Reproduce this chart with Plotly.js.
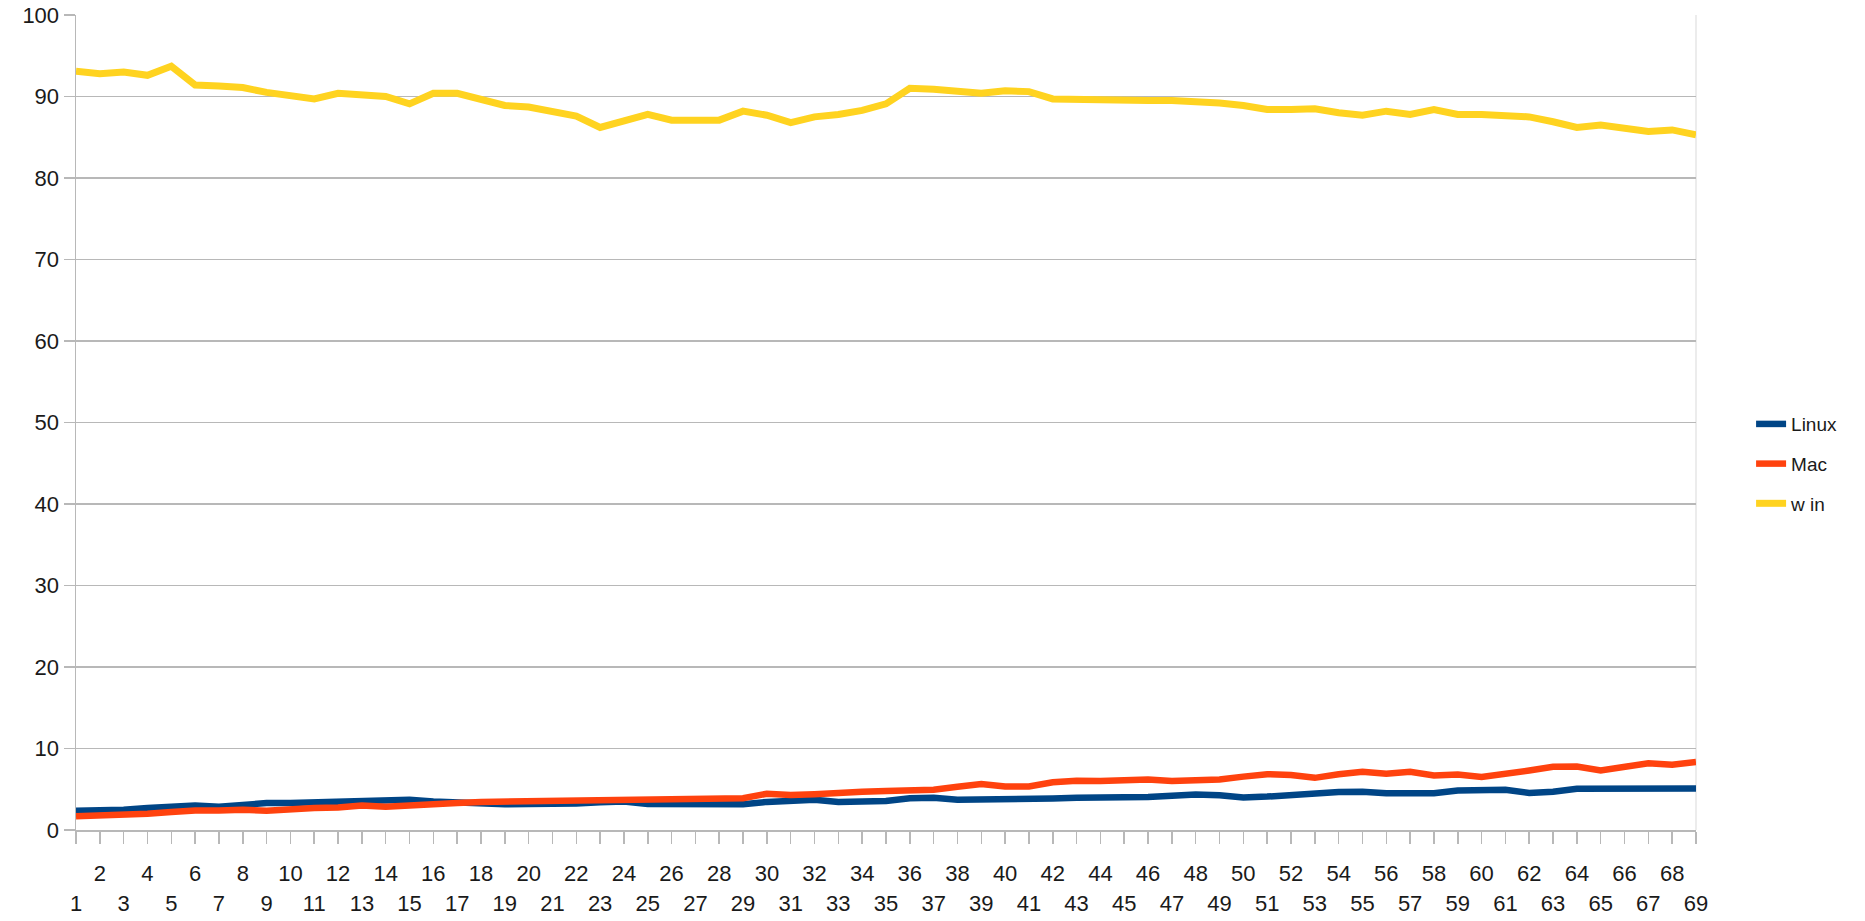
<!DOCTYPE html>
<html>
<head>
<meta charset="utf-8">
<script src="https://cdn.plot.ly/plotly-3.0.1.min.js"></script>
<style>
  html, body { margin: 0; padding: 0; background: #ffffff; }
  #chart { width: 1865px; height: 921px; }
</style>
</head>
<body>
<div id="chart"></div>
<script>
// Categories on the horizontal axis
const categories = [1,2,3,4,5,6,7,8,9,10,11,12,13,14,15,16,17,18,19,20,21,22,23,24,25,26,27,28,29,30,31,32,33,34,35,36,37,38,39,40,41,42,43,44,45,46,47,48,49,50,51,52,53,54,55,56,57,58,59,60,61,62,63,64,65,66,67,68,69];

// Tick labels: even numbers on the upper row, odd numbers on the lower row
const evenTicks = [2,4,6,8,10,12,14,16,18,20,22,24,26,28,30,32,34,36,38,40,42,44,46,48,50,52,54,56,58,60,62,64,66,68];
const oddTicks = [1,3,5,7,9,11,13,15,17,19,21,23,25,27,29,31,33,35,37,39,41,43,45,47,49,51,53,55,57,59,61,63,65,67,69];
const yTicks = [0,10,20,30,40,50,60,70,80,90,100];

// Series values
const linux = [2.36,2.36,2.5,2.7,2.9,3.0,2.85,3.1,3.3,3.3,3.35,3.4,3.4,3.5,3.7,3.5,3.35,
               3.2,3.15,3.2,3.2,3.25,3.4,3.5,3.2,3.2,3.3,3.2,3.15,3.45,3.6,3.7,3.45,3.45,3.55,
               3.9,3.95,3.7,3.7,3.7,3.7,3.85,3.95,3.95,3.95,4.05,4.2,4.35,4.25,4.0,4.1,4.3,
               4.55,4.65,4.7,4.5,4.5,4.5,4.85,4.85,4.95,4.55,4.7,5.05,5.05,5.05,5.1,5.1,5.1];
const mac = [1.7,1.75,1.85,2.0,2.2,2.4,2.4,2.5,2.35,2.55,2.7,2.75,3.0,2.85,2.95,3.05,3.3,
             3.45,3.5,3.55,3.6,3.6,3.65,3.8,3.8,3.9,4.0,3.9,3.9,4.45,4.3,4.4,4.6,4.7,4.8,
             4.85,4.95,5.3,5.65,5.35,5.35,5.85,6.05,6.0,6.15,6.2,6.0,6.05,6.2,6.55,6.85,6.75,
             6.4,6.85,7.15,6.9,7.15,6.7,6.8,6.5,6.8,7.3,7.75,7.8,7.3,7.85,8.2,8.0,8.35];
const win = [93.1,92.8,93.0,92.6,93.7,91.4,91.3,91.1,90.5,90.2,89.7,90.4,90.3,90.0,89.1,90.4,90.4,89.7,88.9,88.7,88.2,87.6,86.2,
             87.1,87.8,87.1,87.1,87.1,88.2,87.7,86.8,87.5,87.8,88.3,89.1,91.0,90.9,90.7,90.4,90.7,90.6,89.7,89.6,89.7,89.5,89.5,89.5,89.4,89.2,
             88.9,88.4,88.4,88.5,88.0,87.7,88.2,87.8,88.4,87.8,87.8,87.6,87.5,86.9,86.2,86.5,86.0,85.7,85.9,85.3];

const seriesNames = ['Linux', 'Mac', 'w in'];
const seriesColors = ['#004586', '#ff420e', '#ffd320'];
const seriesWidths = [6.5, 6.5, 7];
const seriesValues = [linux, mac, win];
// The last series sits on the overlaid axis that carries the odd labels
const seriesAxes = ['x', 'x', 'x2'];

const FONT = '"Liberation Sans", Arial, sans-serif';
const GRID = '#b8b8b8';
const TEXT = '#1a1a1a';
const TICK_SIZE = 22;

const traces = seriesValues.map((vals, k) => ({
  type: 'scatter',
  mode: 'lines',
  x: categories,
  y: vals,
  xaxis: seriesAxes[k],
  yaxis: 'y',
  name: seriesNames[k],
  legendgroup: 'g' + k,
  line: { color: seriesColors[k], width: seriesWidths[k], shape: 'linear' },
  hoverinfo: 'x+y+name'
}));

const layout = {
  width: 1865,
  height: 921,
  paper_bgcolor: '#ffffff',
  plot_bgcolor: '#ffffff',
  margin: { l: 76, r: 169, t: 15, b: 91, pad: 0 },
  font: { family: FONT, size: TICK_SIZE, color: TEXT },
  showlegend: true,
  legend: {
    x: 1.034, xanchor: 'left',
    y: 0.449, yanchor: 'middle',
    font: { family: FONT, size: 19, color: TEXT },
    bgcolor: 'rgba(0,0,0,0)',
    borderwidth: 0,
    tracegroupgap: 12
  },
  xaxis: {
    range: [1, 69],
    tickmode: 'array',
    tickvals: categories,
    ticktext: categories.map(c => evenTicks.includes(c) ? String(c) : ''),
    ticks: 'outside',
    ticklen: 12,
    tickwidth: 1.5,
    tickcolor: GRID,
    ticklabelstandoff: 11,
    showgrid: false,
    zeroline: false,
    showline: true,
    linecolor: GRID,
    linewidth: 1.5,
    tickfont: { family: FONT, size: TICK_SIZE, color: TEXT },
    fixedrange: true
  },
  xaxis2: {
    overlaying: 'x',
    anchor: 'y',
    side: 'bottom',
    range: [1, 69],
    tickmode: 'array',
    tickvals: oddTicks,
    ticktext: oddTicks.map(String),
    ticks: '',
    ticklabelstandoff: 58,
    showgrid: false,
    zeroline: false,
    showline: false,
    tickfont: { family: FONT, size: TICK_SIZE, color: TEXT },
    fixedrange: true
  },
  yaxis: {
    range: [0, 100],
    tickmode: 'array',
    tickvals: yTicks,
    ticks: 'outside',
    ticklen: 11,
    tickwidth: 1.5,
    tickcolor: GRID,
    showgrid: true,
    gridcolor: GRID,
    gridwidth: 1.5,
    zeroline: false,
    showline: true,
    linecolor: GRID,
    linewidth: 1.5,
    tickfont: { family: FONT, size: TICK_SIZE, color: TEXT },
    fixedrange: true
  },
  shapes: [{
    type: 'line', xref: 'paper', yref: 'paper',
    x0: 1, x1: 1, y0: 0, y1: 1,
    line: { color: '#e6e6e6', width: 1.5 },
    layer: 'below'
  }]
};

Plotly.newPlot('chart', traces, layout, { displayModeBar: false, staticPlot: true });
</script>
</body>
</html>
